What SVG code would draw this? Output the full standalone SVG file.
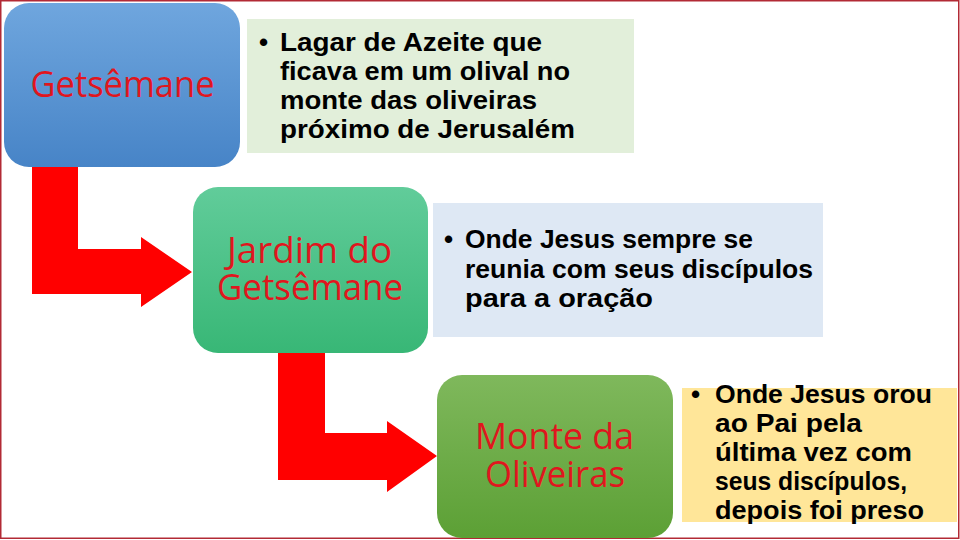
<svg xmlns="http://www.w3.org/2000/svg" width="960" height="540" viewBox="0 0 960 540">
<defs>
<linearGradient id="gBlue" x1="0" y1="0" x2="0" y2="1"><stop offset="0" stop-color="#6fa6de"/><stop offset="1" stop-color="#4784c7"/></linearGradient>
<linearGradient id="gTeal" x1="0" y1="0" x2="0" y2="1"><stop offset="0" stop-color="#61cc9a"/><stop offset="1" stop-color="#38b776"/></linearGradient>
<linearGradient id="gGreen" x1="0" y1="0" x2="0" y2="1"><stop offset="0" stop-color="#7fb85c"/><stop offset="1" stop-color="#5ca035"/></linearGradient>
<style>
.lbl{font-family:"Open Sans","Noto Sans",sans-serif;font-size:36px;fill:#e0161e;text-anchor:middle}
.bt{font-family:"Liberation Sans","Arial",sans-serif;font-size:26px;font-weight:bold;fill:#000}
.arrow{fill:#ff0000}
</style>
</defs>
<rect x="0" y="0" width="960" height="540" fill="#ffffff"/>
<rect x="0.75" y="0.75" width="958" height="537.5" fill="none" stroke="#b22a35" stroke-width="1.5"/>

<g id="connectors">
<polygon class="arrow" points="32,160 78,160 78,249 141,249 141,237 192,272 141,307 141,294 32,294"/>
<polygon class="arrow" points="278,345 325,345 325,433 387,433 387,421 437,456 387,492 387,480 278,480"/>
</g>

<g id="node-getsemane">
<rect x="4" y="3" width="236" height="164" rx="25" fill="url(#gBlue)"/>
<text class="lbl" x="122.5" y="97" textLength="184" lengthAdjust="spacingAndGlyphs">Getsêmane</text>
</g>

<g id="note-lagar">
<rect x="247" y="19" width="387" height="134" fill="#e2efda"/>
<text class="bt" x="259" y="51">•</text>
<text class="bt" x="280" y="51" textLength="262" lengthAdjust="spacingAndGlyphs">Lagar de Azeite que</text>
<text class="bt" x="280" y="80" textLength="290" lengthAdjust="spacingAndGlyphs">ficava em um olival no</text>
<text class="bt" x="280" y="109" textLength="257" lengthAdjust="spacingAndGlyphs">monte das oliveiras</text>
<text class="bt" x="280" y="138" textLength="295" lengthAdjust="spacingAndGlyphs">próximo de Jerusalém</text>
</g>

<g id="node-jardim">
<rect x="193" y="187" width="235" height="166" rx="25" fill="url(#gTeal)"/>
<text class="lbl" x="309.5" y="263" textLength="165" lengthAdjust="spacingAndGlyphs">Jardim do</text>
<text class="lbl" x="310" y="300" textLength="186" lengthAdjust="spacingAndGlyphs">Getsêmane</text>
</g>

<g id="note-onde">
<rect x="433" y="203" width="390" height="134" fill="#dee8f4"/>
<text class="bt" x="444" y="248">•</text>
<text class="bt" x="465" y="248" textLength="288" lengthAdjust="spacingAndGlyphs">Onde Jesus sempre se</text>
<text class="bt" x="465" y="278" textLength="348" lengthAdjust="spacingAndGlyphs">reunia com seus discípulos</text>
<text class="bt" x="465" y="307" textLength="188" lengthAdjust="spacingAndGlyphs">para a oração</text>
</g>

<g id="node-monte">
<rect x="437" y="375" width="236" height="163" rx="25" fill="url(#gGreen)"/>
<text class="lbl" x="554.5" y="449" textLength="159" lengthAdjust="spacingAndGlyphs">Monte da</text>
<text class="lbl" x="555" y="487" textLength="140" lengthAdjust="spacingAndGlyphs">Oliveiras</text>
</g>

<g id="note-orou">
<rect x="682" y="388" width="275" height="134" fill="#ffe699"/>
<text class="bt" x="691" y="403">•</text>
<text class="bt" x="715" y="403" textLength="217" lengthAdjust="spacingAndGlyphs">Onde Jesus orou</text>
<text class="bt" x="715" y="432" textLength="147" lengthAdjust="spacingAndGlyphs">ao Pai pela</text>
<text class="bt" x="715" y="461" textLength="197" lengthAdjust="spacingAndGlyphs">última vez com</text>
<text class="bt" x="715" y="490" textLength="192" lengthAdjust="spacingAndGlyphs">seus discípulos,</text>
<text class="bt" x="715" y="519" textLength="209" lengthAdjust="spacingAndGlyphs">depois foi preso</text>
</g>
</svg>
